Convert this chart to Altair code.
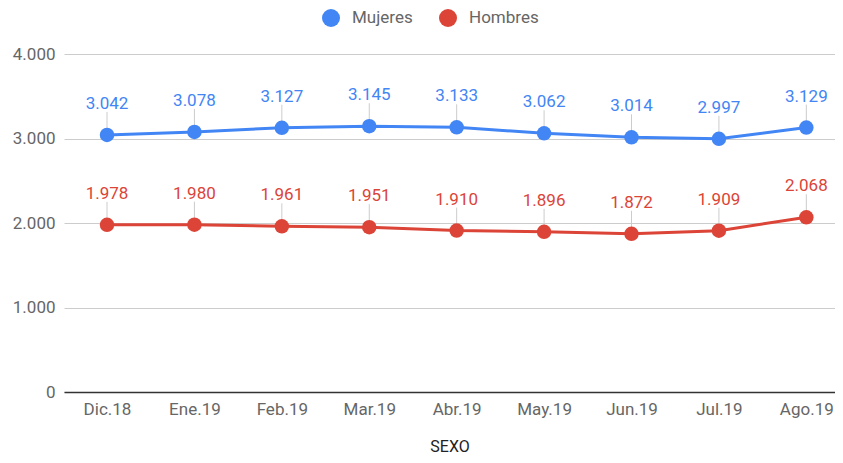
import altair as alt
import pandas as pd

meses = ["Dic.18", "Ene.19", "Feb.19", "Mar.19", "Abr.19", "May.19", "Jun.19", "Jul.19", "Ago.19"]
mujeres = [3042, 3078, 3127, 3145, 3133, 3062, 3014, 2997, 3129]
hombres = [1978, 1980, 1961, 1951, 1910, 1896, 1872, 1909, 2068]
series = ["Mujeres", "Hombres"]
colores = ["#4285F4", "#DB4437"]
y_ticks = [0, 1000, 2000, 3000, 4000]

rows = []
for s, vals in zip(series, [mujeres, hombres]):
    for m, v in zip(meses, vals):
        rows.append({"mes": m, "serie": s, "valor": v,
                     "etiqueta": f"{v:,}".replace(",", ".")})
df = pd.DataFrame(rows)

x = alt.X("mes:N", sort=meses,
          scale=alt.Scale(type="point", padding=0.41, align=0.6),
          axis=alt.Axis(title="SEXO", labelAngle=0, labelFontSize=17, labelColor="#666666",
                        labelPadding=9, ticks=False, grid=False, domainColor="#333333",
                        domainWidth=1.5, titleFontSize=16, titleFontWeight="normal",
                        titleColor="#222222", titlePadding=21))
y = alt.Y("valor:Q", scale=alt.Scale(domain=[0, 4000], nice=False),
          axis=alt.Axis(title=None, values=y_ticks,
                        labelExpr="replace(format(datum.value, ','), ',', '.')",
                        labelFontSize=17, labelColor="#666666", labelPadding=9,
                        ticks=False, domain=False, gridColor="#cccccc", gridWidth=1))

sc = alt.Scale(domain=series, range=colores)
leg = alt.Legend(title=None, orient="none", direction="horizontal",
                 legendX=258, legendY=-45,
                 symbolType="circle", symbolSize=324,
                 symbolStrokeWidth=0, symbolOpacity=1,
                 labelFontSize=17, labelColor="#666666",
                 labelOffset=12, columnPadding=26)


def col():
    return alt.Color("serie:N", sort=series, scale=sc, legend=leg)


base = alt.Chart(df)

stems = base.mark_rule(color="#cccccc", strokeWidth=1, y2Offset=-23).encode(
    x=x, y=y, y2="valor:Q", detail="serie:N")
lines = base.mark_line(strokeWidth=3).encode(x=x, y=y, color=col())
points = base.mark_circle(size=210, opacity=1).encode(x=x, y=y, color=col())
labels = base.mark_text(dy=-26, baseline="alphabetic", fontSize=17).encode(
    x=x, y=y, text="etiqueta:N", color=col())

chart = alt.layer(stems, lines, points, labels).properties(
    width=771, height=338,
    autosize=alt.AutoSizeParams(type="none"),
    padding={"left": 56, "top": 46, "right": 0, "bottom": 63},
).configure(font="Roboto").configure_view(stroke=None)

chart.save("out.html", embed_options={"renderer": "svg", "actions": False})
